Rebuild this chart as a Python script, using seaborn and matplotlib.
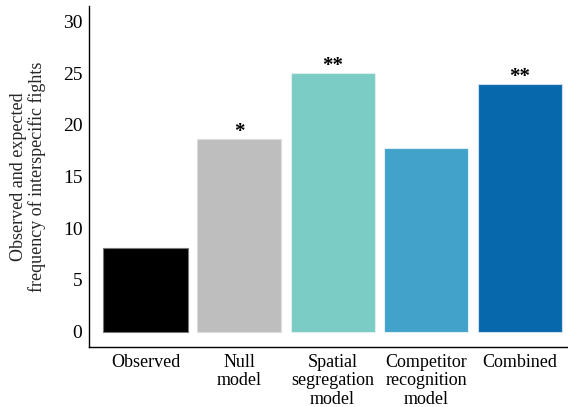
import matplotlib
matplotlib.use("Agg")
import matplotlib.pyplot as plt
import seaborn as sns
import pandas as pd

categories = ["Observed", "Null\nmodel", "Spatial\nsegregation\nmodel", "Competitor\nrecognition\nmodel", "Combined"]
values = [8.05, 18.65, 25.0, 17.75, 24.0]
stars = ["", "*", "**", "", "**"]
colors = ["#000000", "#BEBEBE", "#7BCCC4", "#43A2CA", "#0868AC"]
edges = ["#777777", "#DDDDDD", "#DDEEEE", "#DDEEF5", "#CCDDEE"]
yticks = [0, 5, 10, 15, 20, 25, 30]

sns.set_style("white")
plt.rcParams['font.family'] = ['Liberation Serif', 'DejaVu Serif']

df = pd.DataFrame({"cat": categories, "val": values})

fig = plt.figure(figsize=(5.68, 4.07), dpi=100)
ax = fig.add_axes([89.3/568, 60/407, (576-89.3)/568, (347-6)/407])
sns.barplot(data=df, x="cat", y="val", hue="cat", palette=colors, legend=False,
            width=0.9, ax=ax, saturation=1)
for p, ec in zip(ax.patches, edges):
    p.set_edgecolor(ec)
    p.set_linewidth(0.8)
ax.set_xlim(-0.6, 4.6)
ax.set_ylim(-1.5, 31.5)
ax.set_yticks(yticks)
ax.set_xlabel("")
ax.set_ylabel("Observed and expected\nfrequency of interspecific fights", fontsize=13, labelpad=12,
              linespacing=1.05)
ax.tick_params(axis="x", labelsize=13, length=3, width=0.8, color="#333333", labelcolor="black", pad=2)
ax.tick_params(axis="y", labelsize=14, length=3, width=0.8, color="#333333", labelcolor="black", pad=2)
for lbl in ax.get_xticklabels():
    lbl.set_linespacing(1.1)
for s in ["top", "right"]:
    ax.spines[s].set_visible(False)
for s in ["left", "bottom"]:
    ax.spines[s].set_color("black")
    ax.spines[s].set_linewidth(1.0)

for i, (v, s) in enumerate(zip(values, stars)):
    if s:
        ax.text(i, v - 0.3, s, ha="center", va="bottom", fontsize=15, fontweight="bold", color="black")

fig.savefig("out.png", dpi=100)
